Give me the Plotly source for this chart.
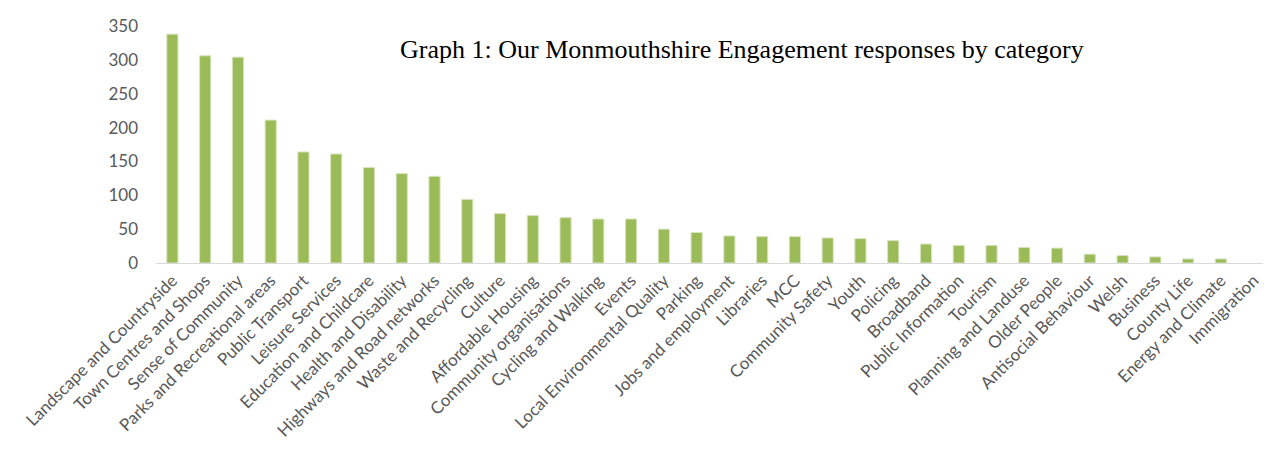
import plotly.graph_objects as go

categories = [
    "Landscape and Countryside", "Town Centres and Shops", "Sense of Community",
    "Parks and Recreational areas", "Public Transport", "Leisure Services",
    "Education and Childcare", "Health and Disability", "Highways and Road networks",
    "Waste and Recycling", "Culture", "Affordable Housing", "Community organisations",
    "Cycling and Walking", "Events", "Local Environmental Quality", "Parking",
    "Jobs and employment", "Libraries", "MCC", "Community Safety", "Youth",
    "Policing", "Broadband", "Public Information", "Tourism", "Planning and Landuse",
    "Older People", "Antisocial Behaviour", "Welsh", "Business", "County Life",
    "Energy and Climate", "Immigration",
]
responses = [
    338, 306, 304, 211, 164, 161, 141, 132, 128, 94, 73, 70, 67, 65, 65, 50, 45,
    40, 39, 39, 37, 36, 33, 28, 26, 26, 23, 22, 13, 11, 9, 6, 6, 0,
]
y_ticks = [0, 50, 100, 150, 200, 250, 300, 350]

title = "Graph 1: Our Monmouthshire Engagement responses by category"

# no outline on empty bars, so a zero doesn't leave a sliver on the axis
outline = [1 if v > 0 else 0 for v in responses]

fig = go.Figure(go.Bar(
    x=categories,
    y=responses,
    marker=dict(color="#9bbb59", line=dict(color="#d7e4bd", width=outline)),
))

fig.update_xaxes(tickangle=-45, automargin=False,
                 showline=True, linecolor="#d9d9d9", linewidth=1,
                 showgrid=False, zeroline=False,
                 tickfont=dict(family="Lato", size=17, color="#595959"))
fig.update_yaxes(range=[0, 350], tickvals=y_ticks, automargin=False,
                 showgrid=False, zeroline=False, showline=False,
                 ticklabelstandoff=17,
                 tickfont=dict(family="Lato", size=17, color="#595959"))

fig.add_annotation(text=title, xref="paper", yref="paper",
                   x=0.526, y=0.899, xanchor="center", yanchor="middle",
                   showarrow=False,
                   font=dict(family="Liberation Serif", size=26, color="#000000"))

# page body adds an 8px offset, so the figure is sized to fit the window
fig.update_layout(width=1263, height=458,
                  bargap=0.66,
                  plot_bgcolor="white",
                  paper_bgcolor="white",
                  showlegend=False,
                  margin=dict(l=148, r=1, t=18, b=203))

fig.write_html("out.html")
